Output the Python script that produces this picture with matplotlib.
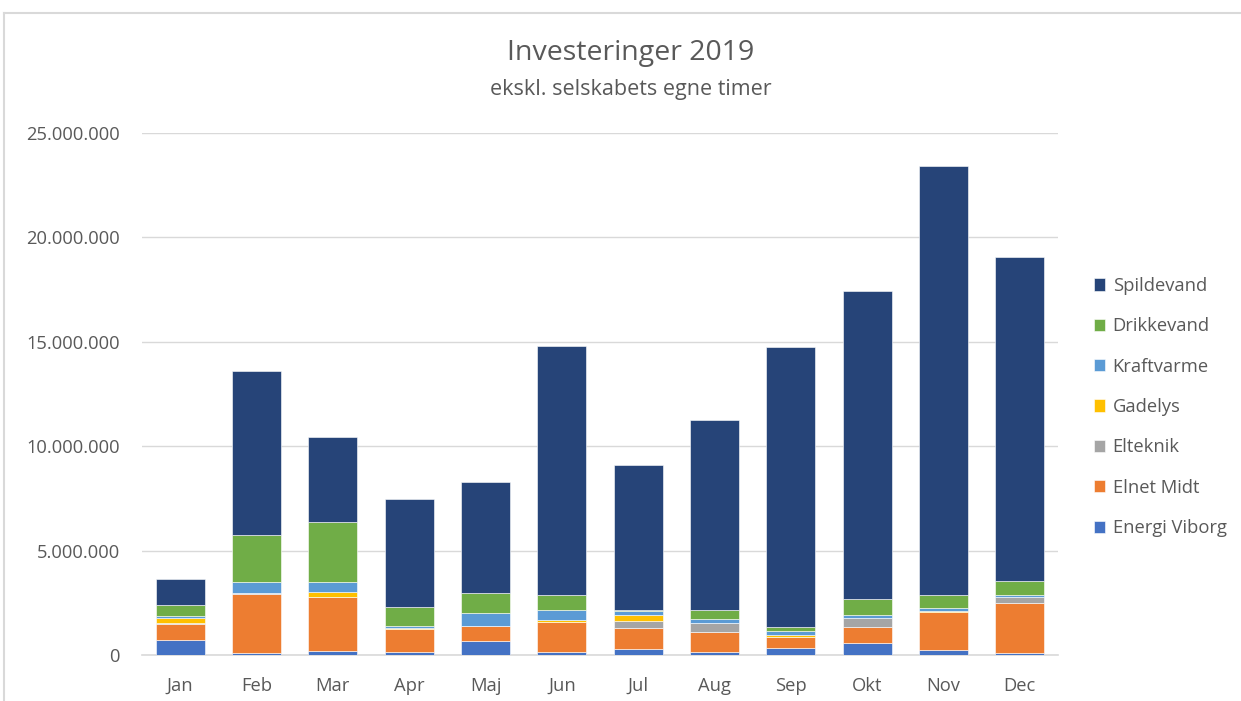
import numpy as np
import matplotlib.pyplot as plt
from matplotlib.lines import Line2D
from matplotlib.ticker import FuncFormatter

plt.rcParams['font.family'] = ['Open Sans', 'DejaVu Sans']

maaneder = ['Jan', 'Feb', 'Mar', 'Apr', 'Maj', 'Jun', 'Jul', 'Aug', 'Sep', 'Okt', 'Nov', 'Dec']

# vaerdier i mio. kr (aflaest fra figuren)
energi_viborg = [0.72, 0.10, 0.20, 0.14, 0.67, 0.14, 0.29, 0.14, 0.35, 0.56, 0.24, 0.10]
elnet_midt    = [0.78, 2.84, 2.59, 1.09, 0.70, 1.44, 1.02, 0.96, 0.53, 0.80, 1.83, 2.38]
elteknik      = [0.05, 0.05, 0.00, 0.03, 0.00, 0.00, 0.32, 0.43, 0.00, 0.40, 0.00, 0.31]
gadelys       = [0.20, 0.00, 0.23, 0.05, 0.00, 0.11, 0.29, 0.00, 0.08, 0.00, 0.06, 0.00]
kraftvarme    = [0.10, 0.52, 0.49, 0.06, 0.64, 0.45, 0.19, 0.21, 0.19, 0.14, 0.14, 0.06]
drikkevand    = [0.56, 2.24, 2.86, 0.93, 0.94, 0.72, 0.05, 0.40, 0.18, 0.78, 0.59, 0.71]
spildevand    = [1.21, 7.85, 4.07, 5.17, 5.34, 11.94, 6.94, 9.11, 13.42, 14.75, 20.56, 15.50]

serier = [
    ('Energi Viborg', energi_viborg, '#4472C4'),
    ('Elnet Midt', elnet_midt, '#ED7D31'),
    ('Elteknik', elteknik, '#A5A5A5'),
    ('Gadelys', gadelys, '#FFC000'),
    ('Kraftvarme', kraftvarme, '#5B9BD5'),
    ('Drikkevand', drikkevand, '#70AD47'),
    ('Spildevand', spildevand, '#264478'),
]

fig = plt.figure(figsize=(12.41, 7.01), dpi=100)
ax = fig.add_axes([142 / 1241, 1 - 655 / 701, (1058 - 142) / 1241, (655 - 133) / 701])

x = np.arange(len(maaneder))
bund = np.zeros(len(maaneder))
for navn, v, farve in serier:
    v = np.array(v) * 1e6
    ax.bar(x, v, 0.64, bottom=bund, color=farve, label=navn,
           edgecolor='white', linewidth=0.4, zorder=3)
    bund += v

ax.set_xlim(-0.5, len(maaneder) - 0.5)
ax.set_ylim(0, 25e6)
ax.set_yticks(np.arange(0, 25e6 + 1, 5e6))
ax.yaxis.set_major_formatter(FuncFormatter(lambda y, p: f'{int(y):,}'.replace(',', '.')))
ax.set_xticks(x)
ax.set_xticklabels(maaneder)
ax.grid(axis='y', color='#D9D9D9', linewidth=1, zorder=0)
for s in ['top', 'right', 'left']:
    ax.spines[s].set_visible(False)
ax.spines['bottom'].set_color('#D9D9D9')
ax.spines['bottom'].set_linewidth(1.2)
ax.tick_params(axis='both', length=0, labelsize=13.2, colors='#595959')
ax.tick_params(axis='x', pad=16)
ax.tick_params(axis='y', pad=16)

fig.text(631 / 1241, 1 - 53 / 701, 'Investeringer 2019',
         ha='center', va='center', fontsize=20.5, color='#595959')
fig.text(631 / 1241, 1 - 89 / 701, 'ekskl. selskabets egne timer',
         ha='center', va='center', fontsize=15.5, color='#595959')

h, l = ax.get_legend_handles_labels()
fig.legend(h[::-1], l[::-1], loc='center left', bbox_to_anchor=(1077 / 1241, 1 - 407 / 701),
           frameon=False, fontsize=13.2, labelcolor='#595959', handlelength=0.65,
           handleheight=0.65, labelspacing=1.22, handletextpad=0.4)

# ramme om diagramomraadet
fig.add_artist(Line2D([4 / 1241, 1], [1 - 13 / 701, 1 - 13 / 701], color='#D9D9D9', lw=1.5))
fig.add_artist(Line2D([4 / 1241, 4 / 1241], [0, 1 - 13 / 701], color='#D9D9D9', lw=1.5))

fig.savefig('out.png', dpi=100, facecolor='white')
